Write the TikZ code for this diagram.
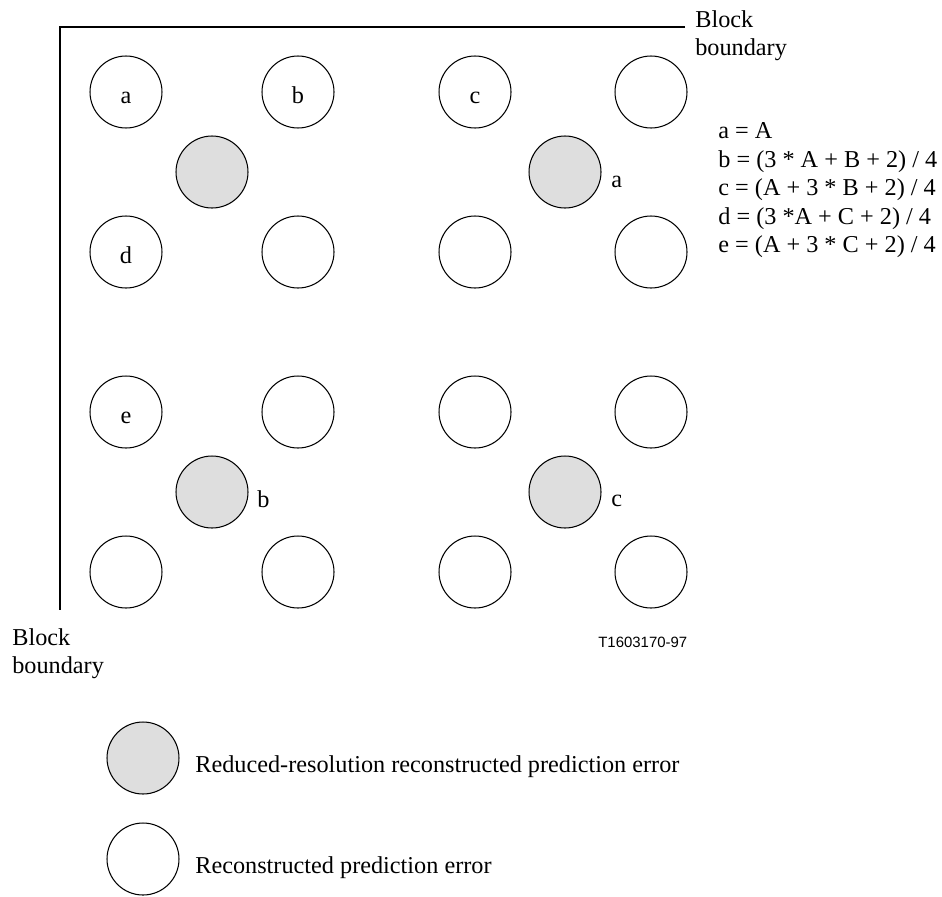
\documentclass[tikz,border=0pt]{standalone}
\usepackage{fontspec}
\setmainfont{Liberation Serif}
\setsansfont{Liberation Sans}
\usepackage{tikz}
\usetikzlibrary{positioning}

\begin{document}
\begin{tikzpicture}[x=0.02cm, y=-0.02cm,
  pel/.style={draw, line width=0.6pt, circle, minimum size=1.44cm, inner sep=0pt},
  redpel/.style={pel, fill=black!13},
  txt/.style={font=\fontsize{13.8}{16.2}\selectfont, inner sep=0pt}]
  \useasboundingbox (0,0) rectangle (942,896);
  % block boundary
  \coordinate (corner) at (60,27);
  \coordinate (topend) at (685,27);
  \coordinate (leftend) at (60,610);
  \draw[line width=0.6pt] (topend) -- (corner) -- (leftend);
  \node[txt, anchor=base west] (bbtop1) at (695,27) {Block};
  \node[txt, anchor=base west] (bbtop2) at (695,55) {boundary};
  \node[txt, anchor=base west] (bbleft1) at (12,645) {Block};
  \node[txt, anchor=base west] (bbleft2) at (12,673) {boundary};
  % full resolution pels
  \node[pel] (p11) at (126,92) {};
  \node[pel] (p12) at (298,92) {};
  \node[pel] (p13) at (475,92) {};
  \node[pel] (p14) at (651,92) {};
  \node[pel] (p21) at (126,252) {};
  \node[pel] (p22) at (298,252) {};
  \node[pel] (p23) at (475,252) {};
  \node[pel] (p24) at (651,252) {};
  \node[pel] (p31) at (126,412) {};
  \node[pel] (p32) at (298,412) {};
  \node[pel] (p33) at (475,412) {};
  \node[pel] (p34) at (651,412) {};
  \node[pel] (p41) at (126,572) {};
  \node[pel] (p42) at (298,572) {};
  \node[pel] (p43) at (475,572) {};
  \node[pel] (p44) at (651,572) {};
  \node[txt, anchor=base] (ta) at ([yshift=-6.5pt]p11.center) {a};
  \node[txt, anchor=base] (tb) at ([yshift=-6.5pt]p12.center) {b};
  \node[txt, anchor=base] (tc) at ([yshift=-6.5pt]p13.center) {c};
  \node[txt, anchor=base] (td) at ([yshift=-6.5pt]p21.center) {d};
  \node[txt, anchor=base] (te) at ([yshift=-6.5pt]p31.center) {e};
  % reduced resolution pels
  \node[redpel] (rA) at (212,172) {};
  \node[redpel] (rB) at (565,172) {};
  \node[redpel] (rC) at (212,492) {};
  \node[redpel] (rD) at (565,492) {};
  \node[txt, anchor=base west] (lA) at (611,187) {a};
  \node[txt, anchor=base west] (lB) at (257,507) {b};
  \node[txt, anchor=base west] (lC) at (611,506) {c};
  % interpolation formulas
  \node[txt, anchor=base west] (f1) at (718,138) {a = A};
  \node[txt, anchor=base west] (f2) at (718,167) {b = (3 * A + B + 2) / 4};
  \node[txt, anchor=base west] (f3) at (718,195) {c = (A + 3 * B + 2) / 4};
  \node[txt, anchor=base west] (f4) at (718,224) {d = (3 *A + C + 2) / 4};
  \node[txt, anchor=base west] (f5) at (718,252) {e = (A + 3 * C + 2) / 4};
  \node[font=\sffamily\fontsize{8.5}{10}\selectfont, inner sep=0pt, anchor=base west] (tag) at (598,647) {T1603170-97};
  % legend
  \node[redpel] (keyred) at (143,758) {};
  \node[pel] (keyfull) at (143,859) {};
  \node[txt, anchor=base west] (keyredtxt) at (195,772) {Reduced-resolution reconstructed prediction error};
  \node[txt, anchor=base west] (keyfulltxt) at (195,873) {Reconstructed prediction error};
\end{tikzpicture}
\end{document}
